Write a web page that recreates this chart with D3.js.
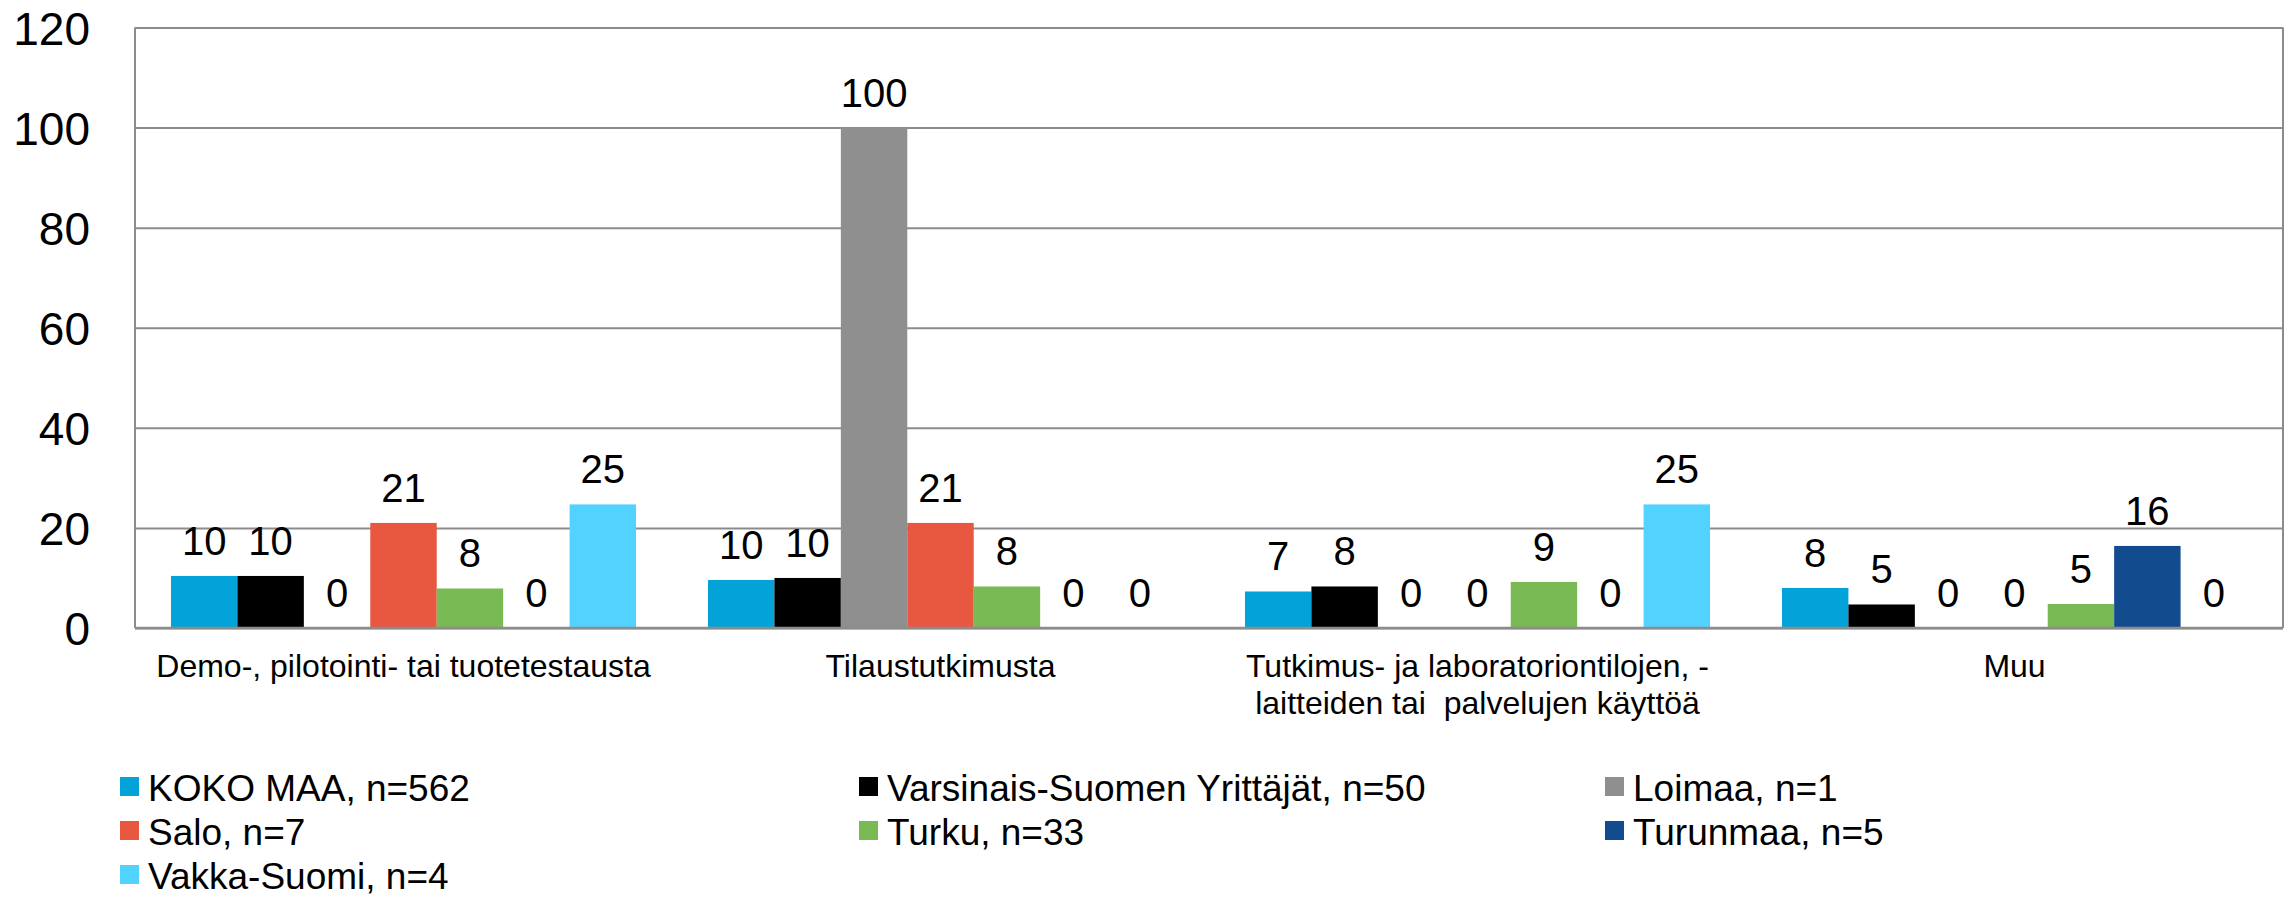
<!DOCTYPE html>
<html>
<head>
<meta charset="utf-8">
<script src="https://cdn.jsdelivr.net/npm/d3@7"></script>
<style>
  body { margin: 0; background: #fff; }
  text { font-family: "Liberation Sans", Arial, sans-serif; fill: #000; }
</style>
</head>
<body>
<div id="chart"></div>
<script>
// categories (x axis), one line per array entry
const categories = [
  ["Demo-, pilotointi- tai tuotetestausta"],
  ["Tilaustutkimusta"],
  ["Tutkimus- ja laboratoriontilojen, -", "laitteiden tai  palvelujen käyttöä"],
  ["Muu"]
];

const seriesNames = [
  "KOKO MAA, n=562",
  "Varsinais-Suomen Yrittäjät, n=50",
  "Loimaa, n=1",
  "Salo, n=7",
  "Turku, n=33",
  "Turunmaa, n=5",
  "Vakka-Suomi, n=4"
];

const seriesColors = ["#03a3d9", "#000000", "#8f8f8f", "#e8573f", "#7aba55", "#134b8f", "#52d3ff"];

// values per series, one per category
const kokoMaa   = [10.4, 9.6, 7.3, 8.0];
const varsinais = [10.4, 10.0, 8.3, 4.7];
const loimaa    = [0, 100, 0, 0];
const salo      = [21.0, 21.0, 0, 0];
const turku     = [7.9, 8.3, 9.2, 4.8];
const turunmaa  = [0, 0, 0, 16.4];
const vakka     = [24.7, 0, 24.7, 0];

const yTicks = [0, 20, 40, 60, 80, 100, 120];

const series = [kokoMaa, varsinais, loimaa, salo, turku, turunmaa, vakka];

const W = 2285, H = 898;
const margin = {top: 27.5, right: 2, bottom: 270, left: 135};
const width = W - margin.left - margin.right,
      height = H - margin.top - margin.bottom;

const svg = d3.select("#chart").append("svg")
  .attr("width", W).attr("height", H);

const g = svg.append("g")
  .attr("transform", `translate(${margin.left},${margin.top})`);

const x0 = d3.scaleBand()
  .domain(d3.range(categories.length))
  .range([0, width])
  .paddingInner(0.134)
  .paddingOuter(0.067);

const x1 = d3.scaleBand()
  .domain(d3.range(seriesNames.length))
  .range([0, x0.bandwidth()]);

const y = d3.scaleLinear().domain([0, 120]).range([height, 0]);

// gridlines + y labels
const yAxis = g.append("g")
  .call(d3.axisLeft(y).tickValues(yTicks).tickSize(-width).tickPadding(45))
yAxis.select(".domain").remove();
yAxis.selectAll(".tick line").attr("stroke", "#8c8c8c").attr("stroke-width", 2);
yAxis.selectAll(".tick text").style("font-size", "46px").attr("dy", "0.36em");

// plot frame (left and right)
g.append("line").attr("x1", 0).attr("x2", 0).attr("y1", 0).attr("y2", height)
  .attr("stroke", "#8c8c8c").attr("stroke-width", 2);
g.append("line").attr("x1", width).attr("x2", width).attr("y1", 0).attr("y2", height)
  .attr("stroke", "#8c8c8c").attr("stroke-width", 2);

// bars
const groups = g.append("g").selectAll("g")
  .data(categories)
  .join("g")
    .attr("transform", (d, i) => `translate(${x0(i)},0)`);

groups.selectAll("rect")
  .data((d, ci) => series.map((s, si) => ({si, v: s[ci]})))
  .join("rect")
    .attr("x", d => x1(d.si))
    .attr("width", x1.bandwidth())
    .attr("y", d => y(d.v))
    .attr("height", d => height - y(d.v))
    .attr("fill", d => seriesColors[d.si]);

groups.selectAll("text.val")
  .data((d, ci) => series.map((s, si) => ({si, v: s[ci]})))
  .join("text")
    .attr("class", "val")
    .attr("x", d => x1(d.si) + x1.bandwidth() / 2)
    .attr("y", d => y(d.v) - 21)
    .attr("text-anchor", "middle")
    .style("font-size", "40px")
    .text(d => Math.round(d.v));

// baseline on top of bars
g.append("line").attr("x1", 0).attr("x2", width).attr("y1", height).attr("y2", height)
  .attr("stroke", "#8c8c8c").attr("stroke-width", 2.5);

// category labels
const catLabels = g.append("g").selectAll("text")
  .data(categories)
  .join("text")
    .attr("x", (d, i) => x0(i) + x0.bandwidth() / 2)
    .attr("y", height + 49)
    .attr("text-anchor", "middle")
    .style("font-size", "32px")
    .style("white-space", "pre");
catLabels.selectAll("tspan")
  .data(d => d)
  .join("tspan")
    .attr("x", function() { return this.parentNode.getAttribute("x"); })
    .attr("dy", (d, i) => i === 0 ? 0 : 37)
    .text(d => d);

// legend, 3 columns
const legendX = [120, 859, 1605];
const legend = svg.append("g").selectAll("g")
  .data(seriesNames)
  .join("g")
    .attr("transform", (d, i) => `translate(${legendX[i % 3]},${801 + Math.floor(i / 3) * 44})`);
legend.append("rect")
  .attr("x", 0).attr("y", -24).attr("width", 19).attr("height", 19)
  .attr("fill", (d, i) => seriesColors[i]);
legend.append("text")
  .attr("x", 28).attr("y", 0)
  .style("font-size", "37px")
  .text(d => d);
</script>
</body>
</html>
